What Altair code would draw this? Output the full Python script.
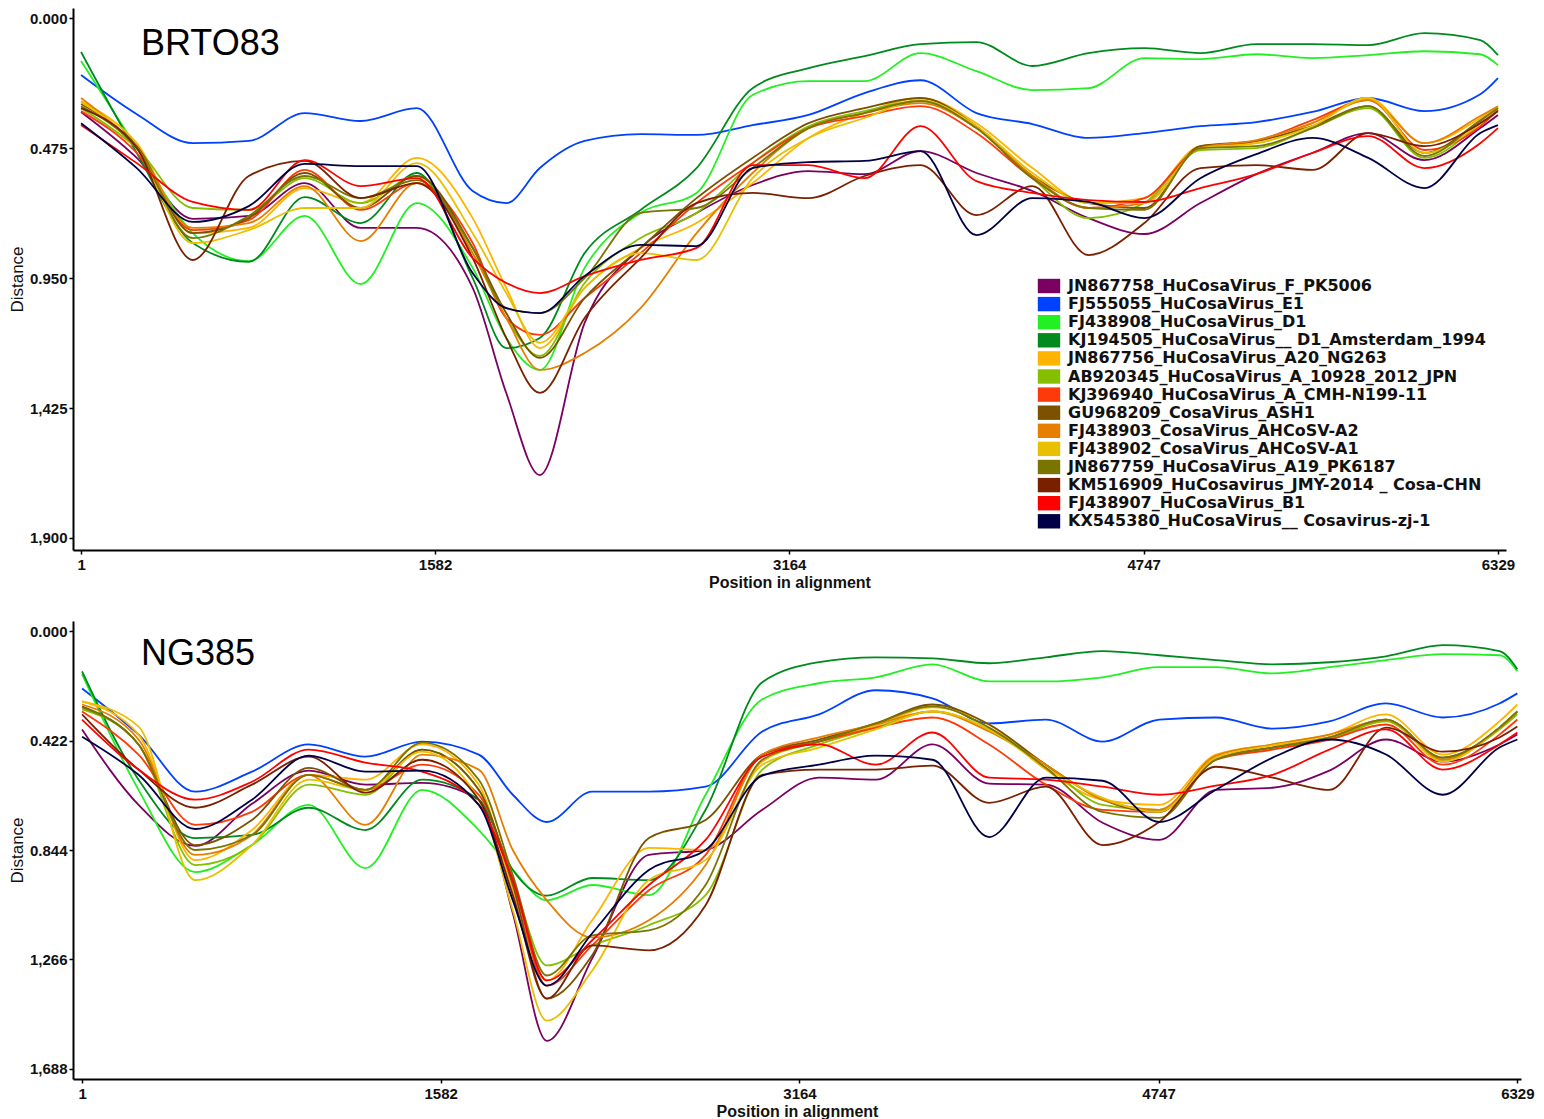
import altair as alt
import pandas as pd

NAMES = [
    "JN867758_HuCosaVirus_F_PK5006",
    "FJ555055_HuCosaVirus_E1",
    "FJ438908_HuCosaVirus_D1",
    "KJ194505_HuCosaVirus__ D1_Amsterdam_1994",
    "JN867756_HuCosaVirus_A20_NG263",
    "AB920345_HuCosaVirus_A_10928_2012_JPN",
    "KJ396940_HuCosaVirus_A_CMH-N199-11",
    "GU968209_CosaVirus_ASH1",
    "FJ438903_CosaVirus_AHCoSV-A2",
    "FJ438902_CosaVirus_AHCoSV-A1",
    "JN867759_HuCosaVirus_A19_PK6187",
    "KM516909_HuCosavirus_JMY-2014 _ Cosa-CHN",
    "FJ438907_HuCosaVirus_B1",
    "KX545380_HuCosaVirus__ Cosavirus-zj-1",
]
COLORS = ["#7A0062", "#0040FF", "#22F022", "#008A1E", "#FFB400", "#84C000", "#FF3A0A",
          "#7A5200", "#E67E00", "#E8C000", "#7A7400", "#7A2000", "#FF0000", "#000046"]

POS = [1, 250, 500, 750, 1000, 1250, 1500, 1750, 1900, 2050, 2250, 2500, 2750, 3000,
       3250, 3500, 3750, 4000, 4250, 4500, 4750, 5000, 5250, 5500, 5750, 6000, 6250, 6329]
X_TICKS = [1, 1582, 3164, 4747, 6329]
Y_TICKS_TOP = [0.0, 0.475, 0.95, 1.425, 1.9]
Y_TICKS_BOT = [0.0, 0.422, 0.844, 1.266, 1.688]

# ---- BRTO83 panel ----
purple_top = [0.343,0.511,0.734,0.723,0.603,0.767,0.767,0.986,1.370,1.670,1.114,0.840,0.712,0.610,0.559,0.570,0.486,0.566,0.632,0.731,0.789,0.676,0.570,0.493,0.420,0.519,0.402,0.354]
blue_top = [0.208,0.351,0.457,0.449,0.347,0.376,0.329,0.632,0.676,0.548,0.449,0.424,0.427,0.391,0.354,0.274,0.227,0.347,0.387,0.438,0.420,0.395,0.380,0.343,0.292,0.340,0.278,0.219]
lgreen_top = [0.157,0.475,0.786,0.888,0.723,0.972,0.676,0.913,1.169,1.286,0.913,0.712,0.639,0.281,0.230,0.230,0.128,0.194,0.263,0.256,0.146,0.150,0.132,0.146,0.135,0.121,0.132,0.172]
dgreen_top = [0.124,0.493,0.822,0.891,0.654,0.749,0.566,0.950,1.206,1.169,0.859,0.701,0.548,0.256,0.183,0.139,0.095,0.088,0.175,0.128,0.110,0.128,0.095,0.095,0.099,0.055,0.080,0.135]
amber_top = [0.303,0.457,0.786,0.767,0.621,0.676,0.511,0.731,0.986,1.206,0.986,0.840,0.749,0.603,0.438,0.347,0.292,0.384,0.548,0.676,0.658,0.468,0.457,0.384,0.292,0.457,0.365,0.322]
ab_top = [0.329,0.475,0.694,0.701,0.585,0.676,0.577,0.859,1.096,1.235,0.968,0.804,0.712,0.530,0.395,0.340,0.303,0.402,0.585,0.731,0.676,0.482,0.475,0.402,0.329,0.511,0.384,0.329]
kj_top = [0.340,0.493,0.775,0.738,0.555,0.701,0.603,0.822,1.096,1.158,1.023,0.859,0.676,0.530,0.402,0.358,0.322,0.420,0.585,0.694,0.658,0.475,0.449,0.373,0.300,0.482,0.395,0.336]
gu_top = [0.314,0.468,0.786,0.731,0.566,0.694,0.577,0.840,1.078,1.242,1.023,0.840,0.658,0.511,0.384,0.329,0.292,0.395,0.577,0.676,0.694,0.468,0.449,0.395,0.322,0.493,0.376,0.336]
orange_top = [0.292,0.475,0.767,0.749,0.614,0.815,0.603,0.859,1.096,1.286,1.224,1.060,0.786,0.566,0.402,0.347,0.311,0.402,0.577,0.694,0.676,0.475,0.446,0.384,0.300,0.457,0.358,0.322]
gold_top = [0.307,0.475,0.822,0.775,0.694,0.694,0.530,0.786,1.005,1.187,0.986,0.859,0.884,0.585,0.438,0.365,0.300,0.395,0.566,0.676,0.676,0.475,0.457,0.395,0.292,0.493,0.384,0.329]
olive_top = [0.322,0.475,0.804,0.723,0.577,0.658,0.592,0.840,1.060,1.078,0.950,0.712,0.694,0.548,0.402,0.347,0.303,0.402,0.585,0.694,0.701,0.475,0.468,0.402,0.322,0.504,0.373,0.329]
km_top = [0.329,0.475,0.884,0.577,0.522,0.658,0.603,0.877,1.169,1.370,1.096,0.877,0.676,0.639,0.658,0.577,0.537,0.720,0.614,0.866,0.749,0.548,0.537,0.555,0.420,0.468,0.384,0.340]
red_top = [0.391,0.530,0.672,0.701,0.519,0.614,0.585,0.877,0.968,1.005,0.943,0.884,0.840,0.537,0.537,0.585,0.395,0.596,0.639,0.665,0.672,0.621,0.570,0.493,0.431,0.548,0.457,0.402]
navy_top = [0.384,0.548,0.745,0.687,0.533,0.541,0.541,0.932,1.060,1.078,0.943,0.829,0.833,0.548,0.526,0.522,0.486,0.793,0.658,0.672,0.731,0.585,0.497,0.438,0.511,0.621,0.420,0.391]

# ---- NG385 panel ----
purple_bot = [0.379,0.670,0.828,0.666,0.538,0.592,0.585,0.650,1.088,1.580,1.262,0.863,0.844,0.689,0.565,0.573,0.437,0.588,0.592,0.739,0.805,0.612,0.604,0.538,0.418,0.503,0.437,0.399]
blue_bot = [0.221,0.399,0.619,0.542,0.437,0.484,0.426,0.476,0.631,0.736,0.619,0.619,0.600,0.387,0.321,0.228,0.259,0.356,0.341,0.426,0.341,0.333,0.376,0.348,0.279,0.333,0.279,0.240]
lgreen_bot = [0.166,0.612,0.929,0.825,0.670,0.914,0.612,0.767,0.921,1.038,0.979,1.018,0.631,0.263,0.201,0.178,0.128,0.194,0.194,0.178,0.139,0.139,0.163,0.139,0.112,0.089,0.093,0.155]
dgreen_bot = [0.155,0.573,0.798,0.786,0.681,0.767,0.573,0.650,0.921,1.020,0.952,0.960,0.689,0.197,0.120,0.101,0.105,0.124,0.101,0.077,0.093,0.112,0.128,0.120,0.097,0.054,0.077,0.147]
amber_bot = [0.271,0.399,0.883,0.767,0.554,0.573,0.437,0.592,0.999,1.347,1.115,0.836,0.844,0.503,0.426,0.364,0.294,0.360,0.534,0.650,0.670,0.476,0.437,0.399,0.321,0.476,0.348,0.283]
ab_bot = [0.302,0.437,0.902,0.825,0.592,0.631,0.457,0.612,0.960,1.289,1.212,1.134,1.018,0.534,0.437,0.372,0.310,0.379,0.515,0.670,0.689,0.496,0.449,0.418,0.348,0.496,0.379,0.321]
kj_bot = [0.310,0.476,0.747,0.697,0.554,0.612,0.515,0.631,0.960,1.367,1.212,0.999,0.863,0.476,0.426,0.372,0.333,0.437,0.592,0.689,0.697,0.496,0.457,0.418,0.360,0.515,0.399,0.341]
gu_bot = [0.290,0.437,0.825,0.728,0.527,0.612,0.457,0.612,0.979,1.417,1.250,0.798,0.728,0.476,0.418,0.356,0.283,0.360,0.515,0.650,0.697,0.488,0.449,0.410,0.341,0.488,0.372,0.310]
orange_bot = [0.283,0.418,0.863,0.786,0.554,0.747,0.476,0.534,0.844,1.038,1.181,1.115,0.902,0.476,0.410,0.360,0.310,0.387,0.515,0.650,0.689,0.480,0.437,0.399,0.341,0.496,0.372,0.310]
gold_bot = [0.271,0.368,0.960,0.825,0.573,0.612,0.465,0.650,1.076,1.502,1.309,0.960,0.883,0.515,0.449,0.379,0.310,0.379,0.527,0.643,0.697,0.488,0.441,0.410,0.341,0.503,0.372,0.310]
olive_bot = [0.294,0.437,0.844,0.786,0.554,0.612,0.430,0.573,0.941,1.328,1.173,1.154,0.979,0.496,0.426,0.356,0.290,0.372,0.527,0.697,0.720,0.496,0.449,0.410,0.341,0.488,0.372,0.310]
km_bot = [0.321,0.534,0.681,0.592,0.484,0.623,0.496,0.650,1.018,1.417,1.212,1.231,1.057,0.554,0.534,0.534,0.519,0.662,0.600,0.825,0.736,0.523,0.565,0.612,0.372,0.465,0.410,0.368]
red_bot = [0.341,0.534,0.650,0.581,0.457,0.507,0.542,0.670,0.960,1.347,1.192,0.979,0.805,0.484,0.437,0.515,0.391,0.565,0.573,0.600,0.631,0.596,0.554,0.457,0.379,0.534,0.437,0.391]
navy_bot = [0.407,0.554,0.763,0.650,0.480,0.542,0.538,0.670,1.038,1.367,1.165,0.921,0.844,0.557,0.515,0.480,0.496,0.794,0.565,0.577,0.736,0.612,0.488,0.418,0.476,0.631,0.449,0.418]

TOP = [purple_top, blue_top, lgreen_top, dgreen_top, amber_top, ab_top, kj_top, gu_top,
       orange_top, gold_top, olive_top, km_top, red_top, navy_top]
BOT = [purple_bot, blue_bot, lgreen_bot, dgreen_bot, amber_bot, ab_bot, kj_bot, gu_bot,
       orange_bot, gold_bot, olive_bot, km_bot, red_bot, navy_bot]


def long_df(series):
    rows = []
    for k, (name, vals) in enumerate(zip(NAMES, series)):
        for p, v in zip(POS, vals):
            rows.append({"strain": name, "key": name, "pos": p, "dist": v, "k": k})
    return pd.DataFrame(rows)


LABEL_EXPR = "datum.value < 1 ? format(datum.value, '.3f') : replace(format(datum.value, '.3f'), '.', ',')"
NARROW = "Liberation Sans Narrow, Liberation Sans, Arial, sans-serif"
RECT = "M-1.4,-0.9H1.4V0.9H-1.4Z"


def panel(series, width, height, xdom, ydom, yticks, name, name_y, show_legend):
    df = long_df(series)
    x_enc = alt.X("pos:Q",
                  scale=alt.Scale(domain=xdom, nice=False, zero=False),
                  axis=alt.Axis(values=X_TICKS, format="d", title="Position in alignment",
                                titleFont=NARROW, titleFontWeight="bold", titleFontSize=16,
                                titleColor="#111111", titlePadding=2,
                                labelFont=NARROW, labelFontWeight="bold", labelFontSize=15,
                                labelColor="#111111", labelPadding=3, labelFlush=False))
    y_enc = alt.Y("dist:Q",
                  scale=alt.Scale(domain=ydom, reverse=True, nice=False, zero=False),
                  axis=alt.Axis(values=yticks, labelExpr=LABEL_EXPR, title="Distance",
                                titleFont="Liberation Sans", titleFontWeight="normal",
                                titleFontSize=17, titleColor="#111111", titlePadding=3,
                                labelFont=NARROW, labelFontWeight="bold", labelFontSize=15,
                                labelColor="#111111", labelPadding=2))
    lines = alt.Chart(df).mark_line(strokeWidth=1.8, clip=True, interpolate="monotone").encode(
        x=x_enc, y=y_enc,
        color=alt.Color("strain:N", scale=alt.Scale(domain=NAMES, range=COLORS),
                        legend=None, sort=NAMES),
        order=alt.Order("pos:Q"),
    ).properties(width=width, height=height)
    layers = [lines]
    if show_legend:
        legend = alt.Legend(
            title=None, orient="none", legendX=968, legendY=270,
            symbolType=RECT, symbolSize=256, symbolStrokeWidth=0, symbolOpacity=1,
            labelFont="DejaVu Sans", labelFontWeight="bold", labelFontSize=16,
            labelColor="#111111", labelOffset=11, rowPadding=2.1,
            labelLimit=700,
        )
        keys = alt.Chart(df).mark_point(shape="square", filled=True, opacity=0, clip=True).encode(
            x=alt.X("pos:Q"), y=alt.Y("dist:Q"),
            color=alt.Color("key:N", scale=alt.Scale(domain=NAMES, range=COLORS),
                            legend=legend, sort=NAMES),
        )
        layers.append(keys)
    label = alt.Chart(pd.DataFrame({"t": [name]})).mark_text(
        align="left", baseline="middle", font="Liberation Sans", fontSize=36,
        color="#000000"
    ).encode(text="t:N", x=alt.value(68), y=alt.value(name_y))
    layers.append(label)
    return alt.layer(*layers).resolve_scale(color="independent")


top = panel(TOP, 1433, 542, [-35, 6365], [-0.037, 1.944], Y_TICKS_TOP, "BRTO83", 36, True)
bot = panel(BOT, 1448, 458, [-39, 6345], [-0.039, 1.727], Y_TICKS_BOT, "NG385", 33, False)

chart = alt.vconcat(top, bot, spacing=31).resolve_scale(color="independent").resolve_legend(
    color="independent").properties(
    padding={"left": 0, "top": 0, "right": 0, "bottom": 0}
).configure_view(stroke=None).configure_axis(
    domainColor="#000000", domainWidth=2, tickColor="#000000", tickWidth=1.5,
    tickSize=4, grid=False
)

chart.save("out.html", embed_options={"renderer": "svg", "actions": False})
